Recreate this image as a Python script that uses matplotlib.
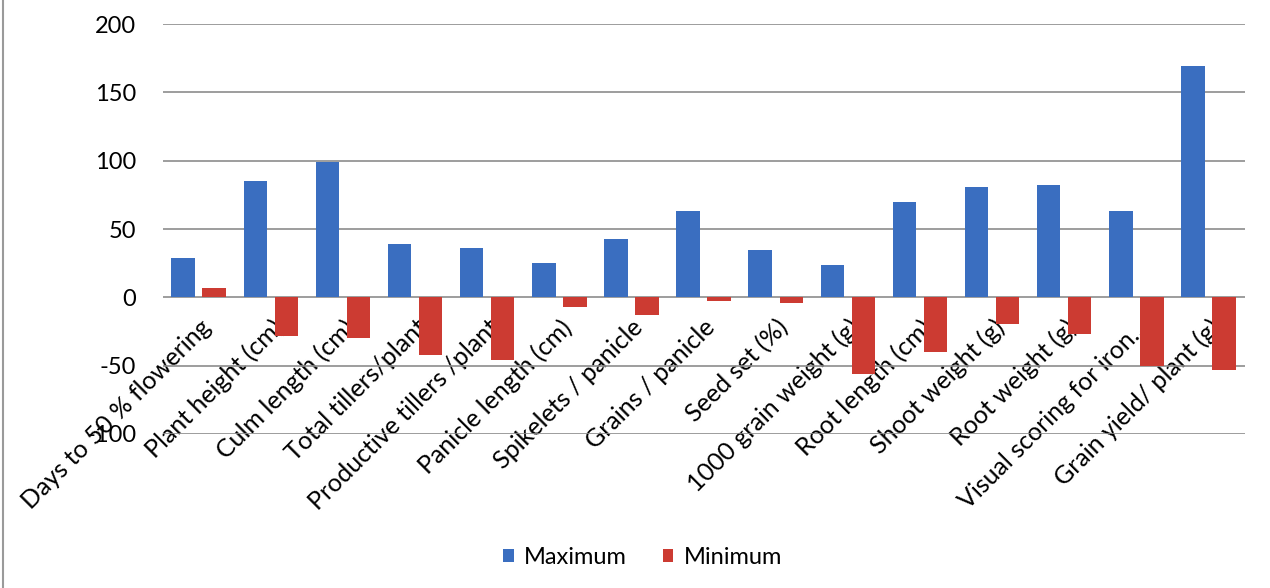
import numpy as np
import matplotlib
matplotlib.use("Agg")
import matplotlib.pyplot as plt
from matplotlib.lines import Line2D

plt.rcParams['font.family'] = ['Lato', 'DejaVu Sans']

# ข้อมูล
categories = ["Days to 50 % flowering", "Plant height (cm)", "Culm length (cm)",
              "Total tillers/plant", "Productive tillers /plant", "Panicle length (cm)",
              "Spikelets / panicle", "Grains / panicle", "Seed set (%)",
              "1000 grain weight (g)", "Root length (cm)", "Shoot weight (g)",
              "Root weight (g)", "Visual scoring for iron...", "Grain yield/ plant (g)"]
maximum = [29, 85, 99, 39, 36, 25, 42.5, 63, 34.5, 23.5, 69.5, 81, 82.5, 63, 169]
minimum = [7, -28, -30, -42, -46, -7, -13, -3, -4.5, -56, -40, -19.5, -27, -50, -53]
yticks = [-100, -50, 0, 50, 100, 150, 200]

blue = "#3A6EC0"
red = "#CC3B32"

fig = plt.figure(figsize=(12.70, 5.88), dpi=100)
ax = fig.add_axes([0.128, 0.262, 0.852, 0.697])

x = np.arange(len(categories))
w = 0.325
ax.bar(x - 0.215, maximum, w, color=blue, label="Maximum", zorder=3)
ax.bar(x + 0.215, minimum, w, color=red, label="Minimum", zorder=3)

ax.set_xlim(-0.5, len(categories) - 0.5)
ax.set_ylim(-100, 200)
ax.set_yticks(yticks)
ax.set_yticklabels([str(v) for v in yticks], fontsize=17)
ax.yaxis.grid(True, color="#8c8c8c", linewidth=1.2, zorder=0)
ax.set_axisbelow(True)

# แกน x อยู่ที่ศูนย์
ax.spines['bottom'].set_position(('data', 0))
for s in ['top', 'right', 'left', 'bottom']:
    ax.spines[s].set_visible(False)
ax.set_xticks(x)
ax.set_xticklabels(categories, fontsize=18, rotation=45, ha='right',
                   rotation_mode='anchor')
ax.tick_params(axis='y', length=0, pad=19)
ax.tick_params(axis='x', length=0, pad=13)

leg = fig.legend(loc='center', bbox_to_anchor=(0.506, 0.052), ncol=2, frameon=False,
                 fontsize=17, handlelength=0.45, handleheight=0.45, handletextpad=0.45,
                 columnspacing=1.5)

# กรอบซ้าย
fig.add_artist(Line2D([0.002, 0.002], [0, 1], transform=fig.transFigure,
                      color="#9a9a9a", linewidth=1.5))

fig.savefig("out.png", dpi=100)
